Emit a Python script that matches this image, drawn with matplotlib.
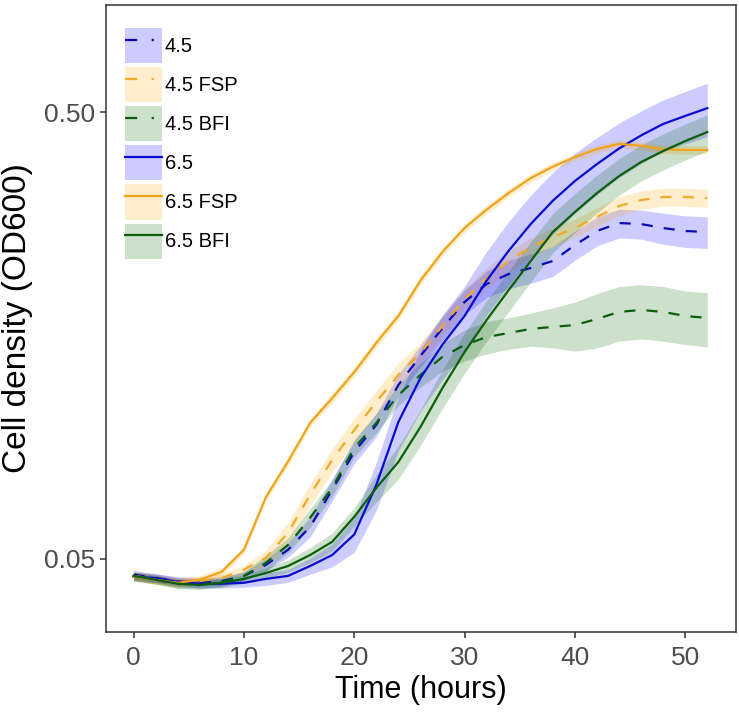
import numpy as np
import matplotlib
matplotlib.use("Agg")
import matplotlib.pyplot as plt
from matplotlib.lines import Line2D
from matplotlib.patches import Patch
from matplotlib.legend_handler import HandlerTuple
from matplotlib.ticker import FixedLocator, NullLocator

plt.rcParams['font.family'] = ['Liberation Sans', 'DejaVu Sans']

# sampling times (hours)
time_h = list(range(0, 53, 2))

# mean OD600 per condition
od_45 = [0.0461, 0.0453, 0.0446, 0.0444, 0.0446, 0.0458, 0.0485, 0.0524, 0.0590, 0.0714,
         0.0868, 0.0998, 0.1226, 0.1424, 0.1644, 0.1881, 0.2064, 0.2173, 0.2241, 0.2324,
         0.2522, 0.2712, 0.2826, 0.2811, 0.2754, 0.2712, 0.2698]
od_45_fsp = [0.0458, 0.0451, 0.0444, 0.0446, 0.0453, 0.0473, 0.0503, 0.0572, 0.0696, 0.0833,
             0.0972, 0.1123, 0.1291, 0.1446, 0.1662, 0.1910, 0.2128, 0.2324, 0.2497, 0.2629,
             0.2754, 0.2916, 0.3085, 0.3182, 0.3232, 0.3232, 0.3215]
od_45_bfi = [0.0456, 0.0449, 0.0440, 0.0440, 0.0444, 0.0458, 0.0490, 0.0537, 0.0618, 0.0721,
             0.0886, 0.1008, 0.1164, 0.1291, 0.1417, 0.1507, 0.1570, 0.1603, 0.1637, 0.1654,
             0.1670, 0.1723, 0.1787, 0.1805, 0.1787, 0.1750, 0.1732]
od_65 = [0.0456, 0.0453, 0.0444, 0.0440, 0.0440, 0.0442, 0.0451, 0.0458, 0.0482, 0.0510,
         0.0567, 0.0732, 0.1013, 0.1270, 0.1510, 0.1750, 0.2100, 0.2450, 0.2812, 0.3170,
         0.3510, 0.3830, 0.4150, 0.4440, 0.4710, 0.4910, 0.5110]
od_65_fsp = [0.0456, 0.0449, 0.0442, 0.0449, 0.0468, 0.0524, 0.0688, 0.0826, 0.1008, 0.1145,
             0.1310, 0.1523, 0.1750, 0.2100, 0.2435, 0.2754, 0.3028, 0.3300, 0.3563, 0.3780,
             0.3970, 0.4140, 0.4250, 0.4210, 0.4130, 0.4120, 0.4120]
od_65_bfi = [0.0458, 0.0449, 0.0440, 0.0437, 0.0442, 0.0451, 0.0465, 0.0482, 0.0510, 0.0546,
             0.0621, 0.0721, 0.0824, 0.0987, 0.1207, 0.1453, 0.1714, 0.2000, 0.2324, 0.2698,
             0.2991, 0.3298, 0.3600, 0.3870, 0.4096, 0.4312, 0.4518]

# standard deviations
sd_45 = [0.001, 0.001, 0.001, 0.001, 0.001, 0.001, 0.0015, 0.002, 0.003, 0.004,
         0.005, 0.006, 0.007, 0.008, 0.010, 0.012, 0.014, 0.016, 0.017, 0.018,
         0.019, 0.020, 0.021, 0.021, 0.022, 0.022, 0.022]
sd_45_fsp = [0.001, 0.001, 0.001, 0.001, 0.001, 0.001, 0.002, 0.003, 0.004, 0.005,
             0.006, 0.007, 0.008, 0.008, 0.009, 0.010, 0.011, 0.012, 0.012, 0.013,
             0.013, 0.014, 0.015, 0.015, 0.015, 0.015, 0.015]
sd_45_bfi = [0.001, 0.001, 0.001, 0.001, 0.001, 0.001, 0.002, 0.002, 0.003, 0.003,
             0.004, 0.005, 0.006, 0.008, 0.010, 0.012, 0.013, 0.013, 0.014, 0.017,
             0.021, 0.024, 0.025, 0.025, 0.025, 0.024, 0.024]
sd_65 = [0.001, 0.001, 0.001, 0.001, 0.001, 0.001, 0.0015, 0.0015, 0.002, 0.003,
         0.005, 0.009, 0.014, 0.020, 0.025, 0.029, 0.034, 0.040, 0.045, 0.050,
         0.054, 0.056, 0.058, 0.060, 0.062, 0.066, 0.070]
sd_65_fsp = [0.001, 0.001, 0.001, 0.001, 0.001, 0.001, 0.0015, 0.002, 0.002, 0.003,
             0.003, 0.004, 0.004, 0.005, 0.005, 0.006, 0.007, 0.007, 0.008, 0.008,
             0.008, 0.009, 0.009, 0.009, 0.009, 0.009, 0.009]
sd_65_bfi = [0.001, 0.001, 0.001, 0.001, 0.001, 0.001, 0.0012, 0.0015, 0.002, 0.0025,
             0.003, 0.005, 0.007, 0.009, 0.012, 0.015, 0.018, 0.021, 0.024, 0.027,
             0.030, 0.032, 0.034, 0.036, 0.038, 0.040, 0.042]

labels = ["4.5", "4.5 FSP", "4.5 BFI", "6.5", "6.5 FSP", "6.5 BFI"]
means = [od_45, od_45_fsp, od_45_bfi, od_65, od_65_fsp, od_65_bfi]
sds = [sd_45, sd_45_fsp, sd_45_bfi, sd_65, sd_65_fsp, sd_65_bfi]

line_cols = ["#0a0ab4", "#f0aa2a", "#0b5e0b", "#0a0ad2", "#f0a41c", "#0b5e0b"]
fill_cols = ["#0000ff", "#ffa500", "#006400", "#0000ff", "#ffa500", "#006400"]
dashed = [True, True, True, False, False, False]

fig = plt.figure(figsize=(7.39, 7.12), dpi=100)
ax = fig.add_axes([0.1434, 0.1124, 0.8525, 0.8806])

t = np.array(time_h)
for m, s, fc in zip(means, sds, fill_cols):
    m = np.array(m)
    s = np.array(s)
    ax.fill_between(t, m - s, m + s, color=fc, alpha=0.2, linewidth=0)

for m, lc, d in zip(means, line_cols, dashed):
    if d:
        ax.plot(t, m, color=lc, lw=1.6, dashes=(5, 5))
    else:
        ax.plot(t, m, color=lc, lw=1.6)

ax.set_yscale('log')
ax.set_xlim(-2.5, 54.6)
ax.set_ylim(0.0343, 0.87)
ax.yaxis.set_major_locator(FixedLocator([0.05, 0.5]))
ax.yaxis.set_minor_locator(NullLocator())
ax.set_yticklabels(["0.05", "0.50"])
ax.set_xticks([0, 10, 20, 30, 40, 50])

ax.tick_params(axis='both', labelsize=19, colors='#4d4d4d', length=4, width=1.1)
ax.tick_params(axis='x', pad=6)
ax.tick_params(axis='both', color='#333333')
for sp in ax.spines.values():
    sp.set_color('#333333')
    sp.set_linewidth(1.1)

ax.set_xlabel("Time (hours)", fontsize=22, color='black', labelpad=4)
ax.set_ylabel("Cell density (OD600)", fontsize=24, color='black', labelpad=8)

# legend: ribbon square behind each line key
handles = []
for lc, fc, d in zip(line_cols, fill_cols, dashed):
    p = Patch(facecolor=fc, alpha=0.2, edgecolor='none')
    if d:
        ln = Line2D([], [], color=lc, lw=1.6, dashes=(5.5, 6.5, 1.0, 10))
    else:
        ln = Line2D([], [], color=lc, lw=1.6)
    handles.append((p, ln))

ax.legend(handles, labels, handler_map={tuple: HandlerTuple(ndivide=1, pad=0)},
          loc='upper left', bbox_to_anchor=(0.03, 0.963), frameon=False,
          fontsize=14.5, borderpad=0, borderaxespad=0, handlelength=1.85,
          handleheight=2.3, labelspacing=0.2, handletextpad=0.12)

fig.savefig("out.png", dpi=100)
